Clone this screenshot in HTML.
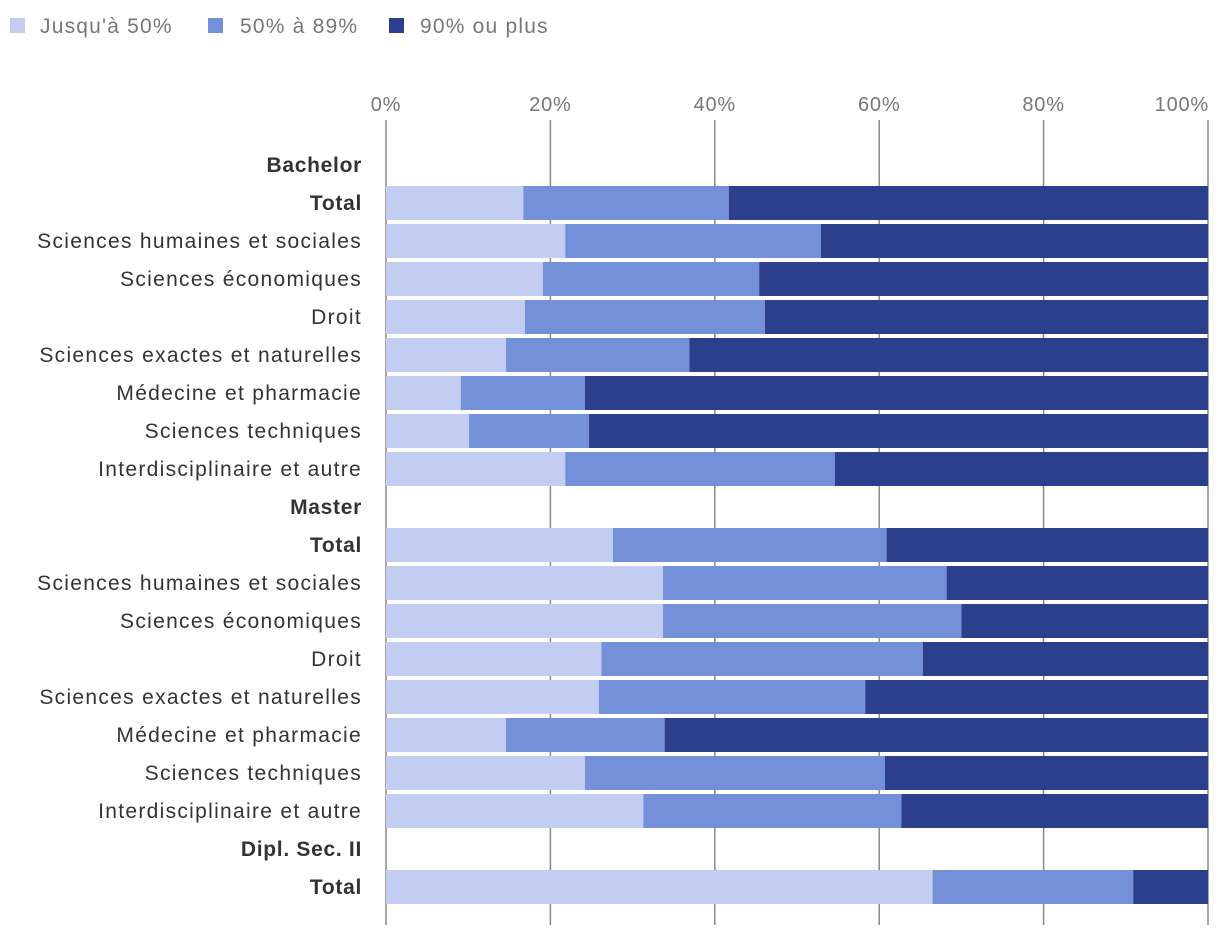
<!DOCTYPE html>
<html><head><meta charset="utf-8"><style>
body{margin:0;background:#fff;font-family:"Liberation Sans",Roboto,sans-serif;}
svg text{font-family:"Liberation Sans",sans-serif;}
</style></head><body>
<svg id="chart" width="1220" height="936" xmlns="http://www.w3.org/2000/svg">
<g id="legend">
<rect x="10" y="18" width="15" height="15" fill="#c3cdf1"/>
<text x="40" y="33" font-size="21" letter-spacing="1.2" fill="#777">Jusqu'à 50%</text>
<rect x="208" y="18" width="15" height="15" fill="#7490d9"/>
<text x="240" y="33" font-size="21" letter-spacing="1.2" fill="#777">50% à 89%</text>
<rect x="389" y="18" width="15" height="15" fill="#2b3f8c"/>
<text x="420" y="33" font-size="21" letter-spacing="1.2" fill="#777">90% ou plus</text>
</g>
<g id="grid"></g><g id="bars"></g><g id="labels"></g>
</svg>
<script>
const categories=["Bachelor","Total","Sciences humaines et sociales","Sciences économiques","Droit","Sciences exactes et naturelles","Médecine et pharmacie","Sciences techniques","Interdisciplinaire et autre","Master","Total","Sciences humaines et sociales","Sciences économiques","Droit","Sciences exactes et naturelles","Médecine et pharmacie","Sciences techniques","Interdisciplinaire et autre","Dipl. Sec. II","Total"];
const boldRows=[true,true,false,false,false,false,false,false,false,true,true,false,false,false,false,false,false,false,true,true];
const upTo50=[null,16.7,21.8,19.1,16.9,14.6,9.1,10.1,21.8,null,27.6,33.7,33.7,26.2,25.9,14.6,24.2,31.3,null,66.5];
const from50to89=[null,25.0,31.1,26.3,29.2,22.3,15.1,14.6,32.8,null,33.3,34.5,36.3,39.1,32.4,19.3,36.5,31.4,null,24.4];
const over90=[null,58.3,47.1,54.6,53.9,63.1,75.8,75.3,45.4,null,39.1,31.8,30.0,34.7,41.7,66.1,39.3,37.3,null,9.1];
const ticks=[0,20,40,60,80,100];
const tickLabels=["0%","20%","40%","60%","80%","100%"];
const NS="http://www.w3.org/2000/svg";
const x=v=>386+v*8.22;
const y=i=>165+i*38;
function mk(tag,attrs,parent){const e=document.createElementNS(NS,tag);for(const k in attrs)e.setAttribute(k,attrs[k]);document.getElementById(parent).appendChild(e);return e;}
ticks.forEach((t,i)=>{
 const l=mk('line',{x1:x(t),x2:x(t),y1:120,y2:925,stroke:'#888','stroke-width':1.5},'grid');
 
 
 const tx=mk('text',{x:x(t),y:111,'font-size':20,'letter-spacing':0.8,fill:'#777','text-anchor':i==ticks.length-1?'end':'middle'},'grid');
 if(i==ticks.length-1)tx.setAttribute('x',x(t)+1);
 tx.textContent=tickLabels[i];
 
 
});
const series=[upTo50,from50to89,over90],colors=["#c3cdf1","#7490d9","#2b3f8c"],names=["jusqua-50","50-89","90-plus"];
categories.forEach((c,i)=>{
 const t=mk('text',{x:362,y:y(i)+7,'font-size':21,'letter-spacing':boldRows[i]?0.7:1.3,fill:'#333','text-anchor':'end','font-weight':boldRows[i]?'bold':'normal'},'labels');
 t.textContent=c;
 
 
 if(upTo50[i]==null)return;
 let acc=0;
 series.forEach((s,k)=>{
  const r=mk('rect',{x:x(acc),y:y(i)-17,width:Math.max(0,x(acc+s[i])-x(acc)),height:34,fill:colors[k]},'bars');
  
  
  acc+=s[i];
 });
});
</script>
</body></html>
